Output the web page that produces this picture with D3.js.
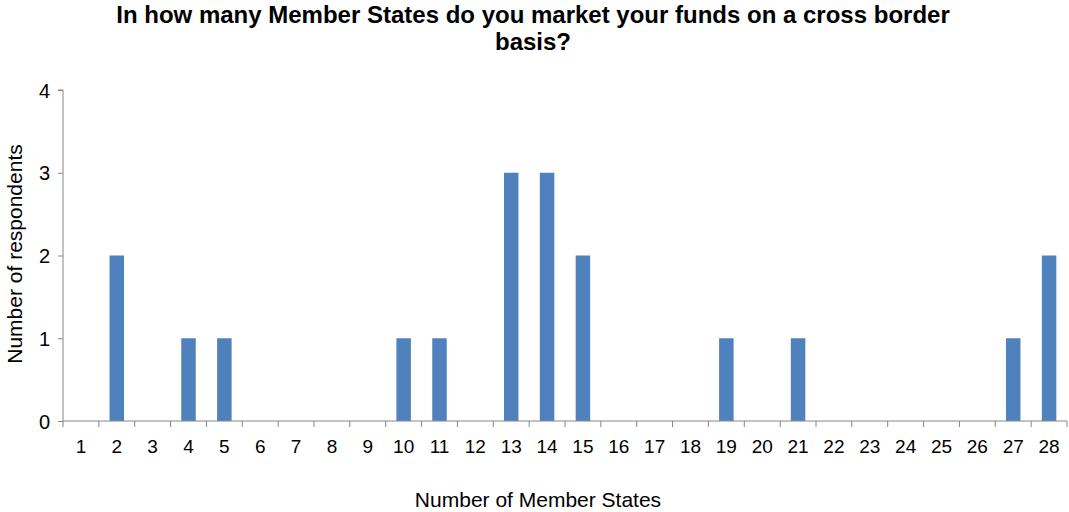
<!DOCTYPE html>
<html><head><meta charset="utf-8">
<script src="https://cdn.jsdelivr.net/npm/d3@7"></script>
<style>body{margin:0;background:#fff}svg{display:block}text{font-family:"Liberation Sans",Arial,sans-serif;fill:#000}</style>
</head><body>
<script>
const categories = d3.range(1, 29).map(String);
const values = [0,2,0,1,1,0,0,0,0,1,1,0,3,3,2,0,0,0,1,0,1,0,0,0,0,0,1,2];
const yTicks = [0,1,2,3,4];
const title = ["In how many Member States do you market your funds on a cross border","basis?"];
const xLabel = "Number of Member States";
const yLabel = "Number of respondents";

const W = 1069, H = 512;
const m = {left: 63, right: 2, top: 90, bottom: 91};
const svg = d3.select("body").append("svg").attr("width", W).attr("height", H);
const xb = d3.scaleBand().domain(categories).range([m.left, W - m.right]);
const y = d3.scaleLinear().domain([0, 4]).range([H - m.bottom, m.top]);

svg.selectAll("rect.bar").data(values).join("rect")
  .attr("x", (d, i) => xb(categories[i]) + xb.bandwidth() / 2 - 7.25)
  .attr("width", 14.5)
  .attr("y", d => y(d))
  .attr("height", d => y(0) - y(d))
  .attr("fill", "#4F81BD");

const gy = svg.append("g").attr("transform", `translate(${m.left},0)`)
  .call(d3.axisLeft(y).tickValues(yTicks).tickSize(5).tickPadding(8).tickFormat(d3.format("d")));
gy.select(".domain").attr("stroke", "#868686").attr("d", `M-5,${y(4)}H0V${y(0)}`);
gy.selectAll(".tick line").attr("stroke", "#868686");
gy.selectAll("text").style("font-size", "20px").attr("dy", "0.36em");

const gx = svg.append("g").attr("transform", `translate(0,${y(0)})`);
gx.append("line").attr("x1", m.left).attr("x2", W - m.right).attr("stroke", "#868686");
gx.selectAll("line.t").data(categories.concat(["end"])).join("line").attr("class", "t")
  .attr("x1", (d, i) => m.left + i * xb.step()).attr("x2", (d, i) => m.left + i * xb.step())
  .attr("y1", 0).attr("y2", 6).attr("stroke", "#868686");
gx.selectAll("text").data(categories).join("text")
  .attr("x", d => xb(d) + xb.bandwidth() / 2).attr("y", 32)
  .attr("text-anchor", "middle").style("font-size", "19px").text(d => d);

svg.append("text").attr("x", 533).attr("y", 23).attr("text-anchor", "middle")
  .style("font-size", "24px").style("font-weight", "bold").text(title[0]);
svg.append("text").attr("x", 533).attr("y", 50).attr("text-anchor", "middle")
  .style("font-size", "24px").style("font-weight", "bold").text(title[1]);
svg.append("text").attr("x", 538).attr("y", 507).attr("text-anchor", "middle")
  .style("font-size", "21px").text(xLabel);
svg.append("text").attr("transform", "translate(22,254) rotate(-90)").attr("text-anchor", "middle")
  .style("font-size", "21px").text(yLabel);
</script>
</body></html>
